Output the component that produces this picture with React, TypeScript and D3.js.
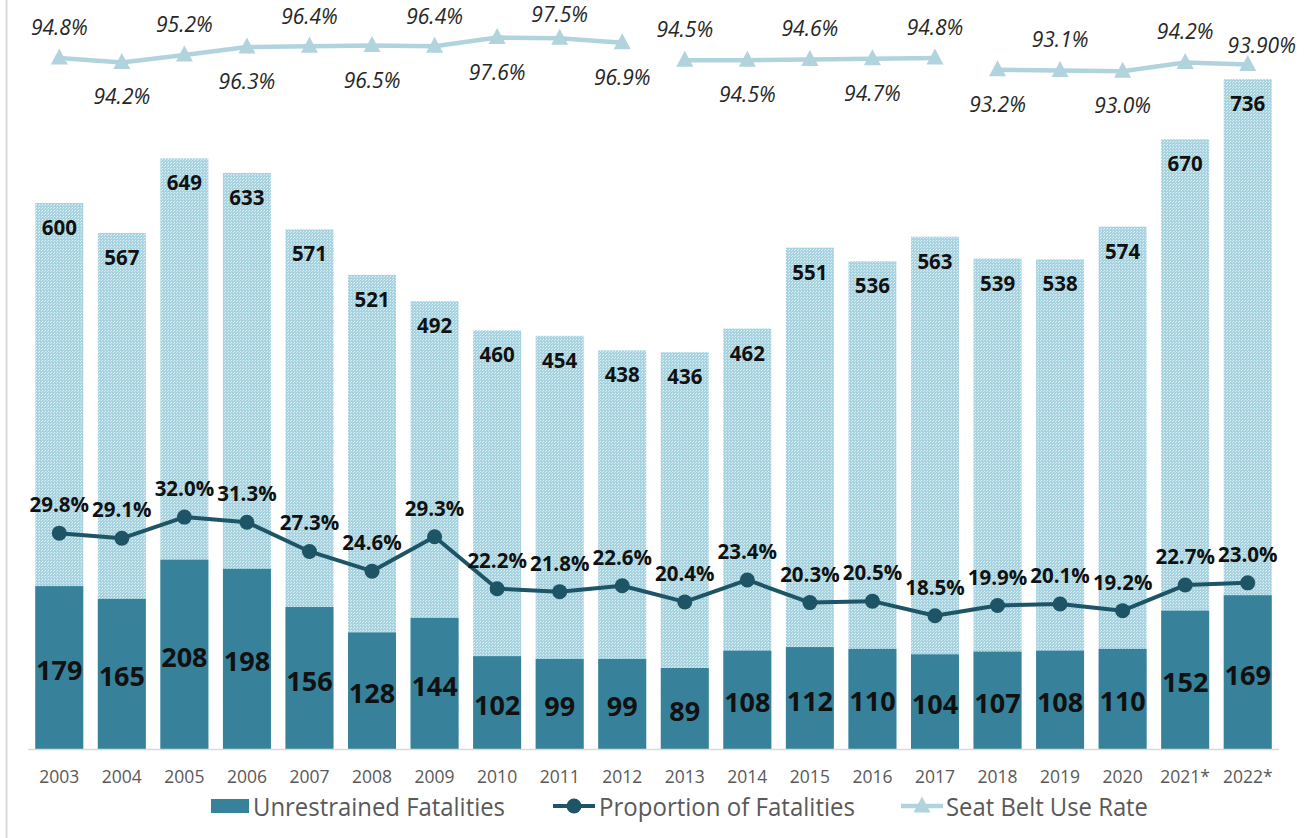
import React from "react";
import * as d3 from "d3";

const years = ["2003","2004","2005","2006","2007","2008","2009","2010","2011","2012","2013","2014","2015","2016","2017","2018","2019","2020","2021*","2022*"];
const totalFatalities = [600,567,649,633,571,521,492,460,454,438,436,462,551,536,563,539,538,574,670,736];
const unrestrainedFatalities = [179,165,208,198,156,128,144,102,99,99,89,108,112,110,104,107,108,110,152,169];
const proportionOfFatalities = [29.8,29.1,32.0,31.3,27.3,24.6,29.3,22.2,21.8,22.6,20.4,23.4,20.3,20.5,18.5,19.9,20.1,19.2,22.7,23.0];
const seatBeltUseRate = [94.8,94.2,95.2,96.3,96.4,96.5,96.4,97.6,97.5,96.9,94.5,94.5,94.6,94.7,94.8,93.2,93.1,93.0,94.2,93.9];
const seatBeltLabels = ["94.8%","94.2%","95.2%","96.3%","96.4%","96.5%","96.4%","97.6%","97.5%","96.9%","94.5%","94.5%","94.6%","94.7%","94.8%","93.2%","93.1%","93.0%","94.2%","93.90%"];
// survey segments (line breaks between groups)
const seatBeltGroups = [1,1,1,1,1,1,1,1,1,1,2,2,2,2,2,3,3,3,3,3];
// label placement for seat belt labels (px from point)
const seatBeltLabelOffset = [-31,34,-31,34,-30,34,-30,34,-30,34,-31,34,-31,34,-31,34,-31,34,-31,-20];
const seatBeltLabelDx = [0,0,0,0,0,0,0,0,0,0,0,0,0,0,0,0,0,0,0,14];

const W = 1312, H = 838;
const BASE = 749, TOP = 21;
const C_DARK = "#37829a";
const C_LINE = "#1e5566";
const C_BELT = "#b1d3dd";
const FONT = "'Open Sans', 'DejaVu Sans', sans-serif";

export default function App() {
  const x = d3.scaleBand<string>().domain(years).range([28, 1279]).paddingInner(0.233).paddingOuter(0.1165);
  const y = d3.scaleLinear().domain([0, 800]).range([BASE, TOP]);
  const yp = d3.scaleLinear().domain([0, 100]).range([BASE + 2, TOP - 1]);
  const bw = x.bandwidth();
  const cx = (i: number) => (x(years[i]) as number) + bw / 2;

  const propLine = d3.line<number>().x((_, i) => cx(i)).y((d) => yp(d))(proportionOfFatalities) as string;

  const groups = Array.from(new Set(seatBeltGroups));
  const beltPaths = groups.map((g) => {
    const idx = seatBeltUseRate.map((_, i) => i).filter((i) => seatBeltGroups[i] === g);
    return d3.line<number>().x((i) => cx(i)).y((i) => yp(seatBeltUseRate[i]))(idx) as string;
  });

  const tri = (px: number, py: number) => `M${px},${py - 8.5}L${px + 8.5},${py + 7.5}L${px - 8.5},${py + 7.5}Z`;

  return (
    <svg width={W} height={H} style={{ position: "absolute", left: 0, top: 0, background: "#fff" }} fontFamily={FONT}>
      <defs>
        <pattern id="dots" width="3" height="3" patternUnits="userSpaceOnUse">
          <rect width="3" height="3" fill="#a6d3df" />
          <rect x="0" y="0" width="1" height="1" fill="#e4f2f6" />
          <rect x="2" y="1" width="1" height="1" fill="#d6ebf1" />
        </pattern>
      </defs>
      <rect width={W} height={H} fill="#fff" />
      <line x1={6.5} x2={6.5} y1={0} y2={H} stroke="#d9d9d9" strokeWidth={2} />

      {/* total bars */}
      {totalFatalities.map((v, i) => (
        <rect key={"t" + i} x={x(years[i])} y={y(v)} width={bw} height={BASE - y(v)} fill="url(#dots)" />
      ))}
      {/* unrestrained bars */}
      {unrestrainedFatalities.map((v, i) => (
        <rect key={"u" + i} x={x(years[i])} y={y(v)} width={bw} height={BASE - y(v)} fill={C_DARK} />
      ))}
      {/* axis */}
      <line x1={28} x2={1279} y1={BASE + 0.5} y2={BASE + 0.5} stroke="#d9d9d9" strokeWidth={1.5} />

      {/* total labels */}
      {totalFatalities.map((v, i) => (
        <text key={"tl" + i} x={cx(i)} y={y(v) + 24} textAnchor="middle" dominantBaseline="central" fontWeight="bold" fontSize={20.5} fill="#111">{v}</text>
      ))}
      {/* unrestrained labels */}
      {unrestrainedFatalities.map((v, i) => (
        <text key={"ul" + i} x={cx(i)} y={(y(v) + BASE) / 2 + 2} textAnchor="middle" dominantBaseline="central" fontWeight="bold" fontSize={27} fill="#111">{v}</text>
      ))}

      {/* proportion line */}
      <path d={propLine} fill="none" stroke={C_LINE} strokeWidth={4} strokeLinejoin="round" />
      {proportionOfFatalities.map((v, i) => (
        <circle key={"pc" + i} cx={cx(i)} cy={yp(v)} r={7.5} fill={C_LINE} />
      ))}
      {proportionOfFatalities.map((v, i) => (
        <text key={"pl" + i} x={cx(i)} y={yp(v) - 29} textAnchor="middle" dominantBaseline="central" fontWeight="bold" fontSize={20.5} fill="#111">{v.toFixed(1) + "%"}</text>
      ))}

      {/* seat belt */}
      {beltPaths.map((d, k) => (
        <path key={"bp" + k} d={d} fill="none" stroke={C_BELT} strokeWidth={4.5} />
      ))}
      {seatBeltUseRate.map((v, i) => (
        <path key={"bt" + i} d={tri(cx(i), yp(v) - 1)} fill={C_BELT} />
      ))}
      {seatBeltUseRate.map((v, i) => (
        <text key={"bl" + i} x={cx(i) + seatBeltLabelDx[i]} y={Math.max(14, yp(v) + seatBeltLabelOffset[i])} textAnchor="middle" dominantBaseline="central" fontStyle="italic" fontSize={21} fill="#262626">{seatBeltLabels[i]}</text>
      ))}

      {/* x labels */}
      {years.map((yr, i) => (
        <text key={"xl" + i} x={cx(i)} y={776} textAnchor="middle" dominantBaseline="central" fontSize={17.5} fill="#595959">{yr}</text>
      ))}

      {/* legend */}
      <g>
        <rect x={211} y={799} width={38} height={14} fill={C_DARK} />
        <text x={253} y={806} dominantBaseline="central" fontSize={25} fill="#595959" textLength={252} lengthAdjust="spacingAndGlyphs">Unrestrained Fatalities</text>
        <line x1={553} x2={595} y1={806} y2={806} stroke={C_LINE} strokeWidth={4} />
        <circle cx={574} cy={806} r={7.5} fill={C_LINE} />
        <text x={599} y={806} dominantBaseline="central" fontSize={25} fill="#595959" textLength={256} lengthAdjust="spacingAndGlyphs">Proportion of Fatalities</text>
        <line x1={901} x2={943} y1={806} y2={806} stroke={C_BELT} strokeWidth={4.5} />
        <path d={tri(922, 805)} fill={C_BELT} />
        <text x={946} y={806} dominantBaseline="central" fontSize={25} fill="#595959" textLength={202} lengthAdjust="spacingAndGlyphs">Seat Belt Use Rate</text>
      </g>
    </svg>
  );
}
